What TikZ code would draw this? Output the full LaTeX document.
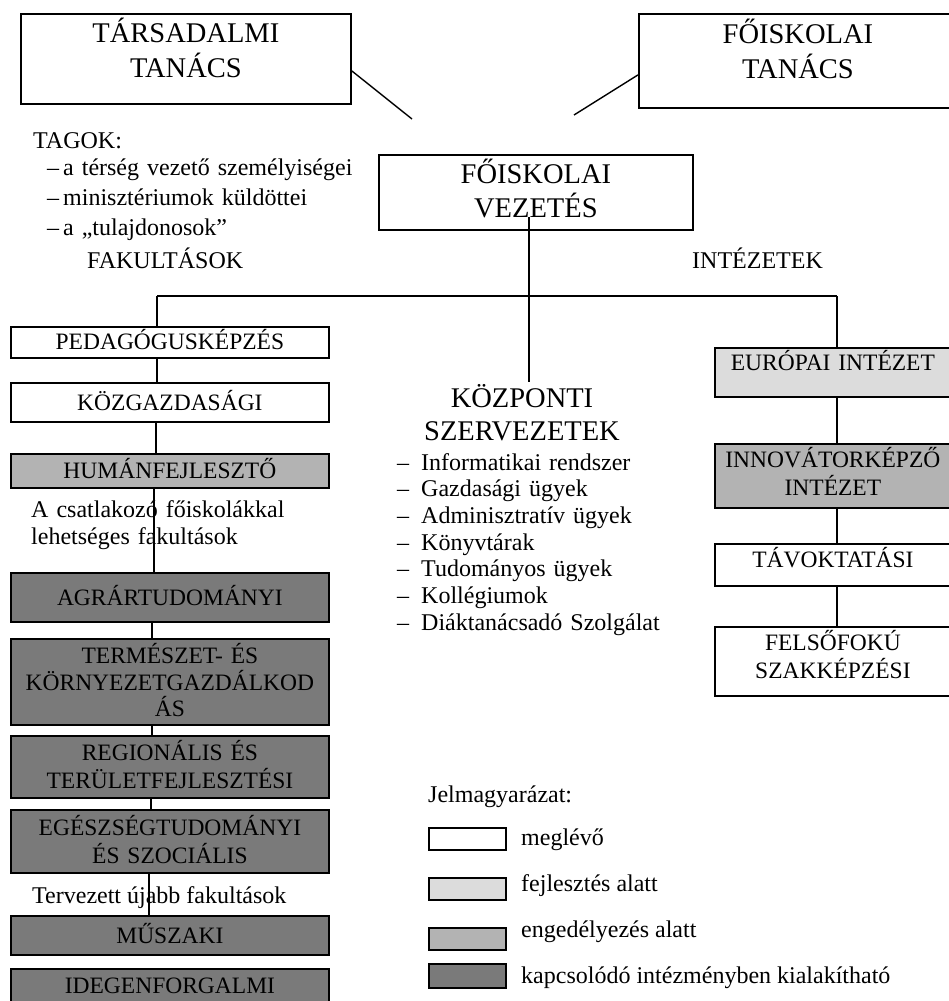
\documentclass[tikz,border=0pt]{standalone}
\usepackage{fontspec}
\setmainfont{Liberation Serif}
\usetikzlibrary{positioning}
\definecolor{fejlc}{HTML}{DCDCDC}
\definecolor{engc}{HTML}{B3B3B3}
\definecolor{kapc}{HTML}{7A7A7A}
\newcommand{\titlef}{\fontsize{28.5}{35}\selectfont}
\newcommand{\boxf}{\fontsize{23.5}{27.5}\selectfont}
\newcommand{\txtf}{\fontsize{24}{27}\selectfont}
\newcommand{\kdash}{\makebox[24pt][l]{–}}

\begin{document}
\begin{tikzpicture}[x=1pt,y=-1pt,
  orgbox/.style={draw,line width=1.8pt,inner sep=0pt,anchor=north west,align=center,font=\boxf},
  leftbox/.style={orgbox,text width=318pt},
  rightbox/.style={orgbox,text width=236pt},
  bigbox/.style={orgbox,font=\titlef},
  plain/.style={inner sep=0pt,anchor=base west,font=\txtf},
  legbox/.style={draw,line width=1.6pt,minimum width=77pt,minimum height=22pt,inner sep=0pt,anchor=north west},
  conn/.style={line width=1.8pt}]
        \path[use as bounding box,fill=white] (0,0) rectangle (948,1001);
        \node[bigbox,text width=330pt,text height=29pt,text depth=61pt] (tars) at (20,13) {TÁRSADALMI\\TANÁCS};
        \node[bigbox,text width=318pt,text height=30pt,text depth=64pt] (ftan) at (638,13) {FŐISKOLAI\\TANÁCS};
        \node[bigbox,text width=314pt,text height=29pt,text depth=46pt,font=\fontsize{28.5}{34}\selectfont] (vez) at (378,154) {FŐISKOLAI\\VEZETÉS};
        \coordinate (tarsend) at (412,119);
        \coordinate (ftanend) at (574,115);
        \draw[line width=1.4pt] ([yshift=-12pt]tars.east) -- (tarsend);
        \draw[line width=1.4pt] ([yshift=-14pt]ftan.west) -- (ftanend);
        \node[plain] (tagok) at (33,148) {TAGOK:};
        \node[plain,text width=320pt,align=left,font=\fontsize{24}{30}\selectfont] (tagoklist) at (47,175) {–\,a térség vezető személyiségei\\–\,minisztériumok küldöttei\\–\,a „tulajdonosok”};
        \node[plain] (fak) at (87,268) {FAKULTÁSOK};
        \node[plain] (intez) at (692,268) {INTÉZETEK};
        \node[inner sep=0pt,anchor=north,align=center,text width=240pt,text height=25pt,font=\fontsize{28.5}{33}\selectfont] (kozp) at (522,382) {KÖZPONTI\\SZERVEZETEK};
        \node[plain,text width=320pt,align=left,font=\fontsize{24}{26.7}\selectfont] (kozplist) at (397,470) {\kdash Informatikai rendszer\\\kdash Gazdasági ügyek\\\kdash Adminisztratív ügyek\\\kdash Könyvtárak\\\kdash Tudományos ügyek\\\kdash Kollégiumok\\\kdash Diáktanácsadó Szolgálat};
        \node[leftbox,text height=23pt,text depth=8pt] (peda) at (10,326) {PEDAGÓGUSKÉPZÉS};
        \node[leftbox,text height=28pt,text depth=11pt] (kozg) at (10,382) {KÖZGAZDASÁGI};
        \node[leftbox,fill=engc,text height=25pt,text depth=9pt] (human) at (10,453) {HUMÁNFEJLESZTŐ};
        \node[plain,text width=320pt,align=left] (csatl) at (31,517) {A csatlakozó főiskolákkal\\lehetséges fakultások};
        \node[leftbox,fill=kapc,text height=33pt,text depth=16pt] (agrar) at (10,572) {AGRÁRTUDOMÁNYI};
        \node[leftbox,fill=kapc,text height=25pt,text depth=61pt,font=\fontsize{23.5}{26.5}\selectfont] (termesz) at (10,638) {TERMÉSZET- ÉS\\KÖRNYEZETGAZDÁLKOD\\ÁS};
        \node[leftbox,fill=kapc,text height=25pt,text depth=37pt] (regio) at (10,735) {REGIONÁLIS ÉS\\TERÜLETFEJLESZTÉSI};
        \node[leftbox,fill=kapc,text height=26pt,text depth=37pt] (egesz) at (10,809) {EGÉSZSÉGTUDOMÁNYI\\ÉS SZOCIÁLIS};
        \node[plain] (terv) at (32,903) {Tervezett újabb fakultások};
        \node[leftbox,fill=kapc,text height=28pt,text depth=11pt] (musz) at (10,915) {MŰSZAKI};
        \node[leftbox,fill=kapc,text height=25pt,text depth=30pt] (idegen) at (10,968) {IDEGENFORGALMI};
        \node[rightbox,fill=fejlc,text height=23pt,text depth=26pt] (europ) at (714,347) {EURÓPAI INTÉZET};
        \node[rightbox,fill=engc,text height=24pt,text depth=40pt] (innov) at (714,443) {INNOVÁTORKÉPZŐ\\INTÉZET};
        \node[rightbox,text height=24pt,text depth=18pt] (tavok) at (714,543) {TÁVOKTATÁSI};
        \node[rightbox,text height=24pt,text depth=45pt] (felso) at (714,626) {FELSŐFOKÚ\\SZAKKÉPZÉSI};
        \coordinate (vtop) at (529,217);
        \coordinate (hleft) at (157,296);
        \coordinate (hright) at (837,296);
        \draw[conn] (vtop) -- (vtop |- kozp.north);
        \draw[conn] (hleft) -- (hright);
        \draw[conn] (hleft) -- (hleft |- peda.north);
        \draw[conn] (hright) -- (hright |- europ.north);
        \foreach \a/\b/\x in {peda/kozg/157,kozg/human/156,human/agrar/154,agrar/termesz/152,termesz/regio/152,regio/egesz/151,egesz/musz/149}{
          \coordinate (cx) at (\x,0);
          \draw[conn] (cx |- \a.south) -- (cx |- \b.north);
        }
        \foreach \a/\b in {europ/innov,innov/tavok,tavok/felso}
          \draw[conn] (hright |- \a.south) -- (hright |- \b.north);
        \node[plain] (jelm) at (428,802) {Jelmagyarázat:};
        \node[legbox] (leg1) at (428,827) {};
        \node[legbox,fill=fejlc] (leg2) at (428,877) {};
        \node[legbox,fill=engc] (leg3) at (428,927) {};
        \node[legbox,fill=kapc,minimum height=24pt] (leg4) at (428,963) {};
        \node[plain] (leg1t) at (521,845) {meglévő};
        \node[plain] (leg2t) at (521,891) {fejlesztés alatt};
        \node[plain] (leg3t) at (521,937) {engedélyezés alatt};
        \node[plain] (leg4t) at (521,983) {kapcsolódó intézményben kialakítható};
      \end{tikzpicture}
\end{document}
